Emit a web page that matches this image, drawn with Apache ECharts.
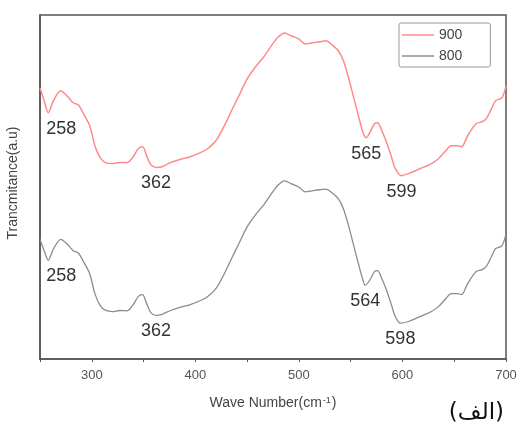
<!DOCTYPE html>
<html lang="en">
  <head>
    <meta charset="UTF-8" />
    <script src="https://cdn.jsdelivr.net/npm/echarts@6/dist/echarts.min.js"></script>
    <title>FTIR</title>
    <style>
      html,
      body,
      #chart {
        width: 100%;
        height: 100%;
        margin: 0;
        padding: 0;
        overflow: hidden;
        background: #fff;
      }
    </style>
  </head>
  <body>
    <div id="chart"></div>
    <script>
      // wave numbers (cm-1)
      const waves900 = [250, 254, 258, 263, 270, 276, 282, 287, 292, 298, 303, 308, 313, 320, 327, 334, 340, 345, 349, 353, 357, 362, 368, 376, 385, 395, 405, 412, 420, 428, 435, 442, 450, 458, 466, 474, 480, 486, 493, 500, 506, 513, 520, 526, 532, 538, 543, 548, 553, 558, 562, 565, 569, 573, 576, 580, 584, 589, 593, 599, 606, 613, 620, 628, 635, 642, 647, 653, 657, 663, 671, 677, 681, 686, 690, 696, 700];
      const trans900 = [78.8, 75.1, 71.6, 75.1, 78.0, 76.5, 74.5, 73.9, 71.3, 67.8, 62.0, 58.6, 57.1, 56.8, 57.1, 57.1, 58.8, 61.2, 61.7, 59.1, 56.5, 55.7, 55.9, 57.1, 58.0, 58.8, 60.0, 61.2, 63.5, 67.8, 72.2, 76.5, 81.4, 84.9, 87.8, 91.3, 93.6, 94.8, 93.9, 93.0, 91.6, 91.9, 92.2, 92.5, 91.3, 89.6, 86.7, 81.7, 75.9, 70.1, 65.8, 64.3, 66.1, 68.4, 68.7, 66.4, 63.5, 59.1, 55.4, 53.3, 53.9, 54.8, 55.7, 56.8, 58.3, 60.6, 62.0, 62.0, 61.7, 64.9, 68.4, 69.0, 69.9, 72.8, 75.1, 75.9, 79.4];

      const waves800 = [250, 254, 258, 263, 270, 276, 282, 287, 292, 298, 303, 308, 313, 320, 327, 334, 340, 345, 349, 353, 357, 362, 368, 376, 385, 395, 405, 412, 420, 428, 435, 442, 450, 458, 466, 474, 480, 486, 493, 500, 506, 513, 520, 526, 532, 538, 543, 548, 553, 558, 562, 564, 569, 573, 576, 580, 584, 589, 593, 598, 606, 613, 620, 628, 635, 642, 647, 653, 657, 663, 671, 677, 681, 686, 690, 696, 700];
      const trans800 = [34.8, 31.5, 28.7, 32.0, 34.8, 33.5, 31.5, 30.8, 28.3, 24.8, 19.0, 15.6, 14.2, 13.8, 14.1, 14.0, 15.8, 18.2, 18.7, 16.1, 13.5, 12.7, 13.0, 14.1, 15.0, 15.8, 17.0, 18.2, 20.5, 24.8, 29.2, 33.5, 38.4, 41.9, 44.8, 48.3, 50.6, 51.8, 50.9, 50.0, 48.6, 48.9, 49.2, 49.4, 48.3, 46.6, 43.7, 38.7, 32.9, 27.1, 22.8, 21.4, 23.2, 25.4, 25.7, 23.4, 20.5, 16.1, 12.4, 10.4, 10.9, 11.8, 12.7, 13.8, 15.3, 17.6, 19.0, 19.0, 18.7, 21.9, 25.4, 26.0, 26.9, 29.8, 32.1, 32.9, 36.4];

      // band positions annotated on each curve
      const peaks900 = [258, 362, 565, 599];
      const peaks800 = [258, 362, 564, 598];

      const font = "Liberation Sans, Arial, sans-serif";

      function pairs(xs, ys) {
        return xs.map((x, i) => [x, ys[i]]);
      }

      function peakMarks(peaks, xs, ys) {
        return peaks.map((p) => {
          const i = xs.indexOf(p);
          return {
            name: String(p),
            coord: [p, ys[i]],
            label: { offset: [p < 300 ? 13 : 0, 16] },
          };
        });
      }

      function markStyle() {
        return {
          symbol: "circle",
          symbolSize: 0,
          silent: true,
          label: {
            show: true,
            position: "inside",
            formatter: "{b}",
            fontSize: 18,
            color: "#333",
            fontFamily: font,
          },
        };
      }

      const myChart = echarts.init(document.getElementById("chart"));
      const option = {
        animation: false,
        grid: {
          left: 40,
          right: 12,
          top: 15,
          bottom: 64,
          outerBoundsMode: "none",
          show: true,
          borderColor: "#555",
          borderWidth: 1.5,
        },
        legend: {
          orient: "vertical",
          left: 399,
          top: 23,
          padding: [5, 28, 4, 3],
          itemGap: 7,
          itemWidth: 32,
          itemHeight: 1.5,
          icon: "rect",
          borderColor: "#999",
          borderWidth: 1,
          borderRadius: 2,
          textStyle: { fontSize: 14, lineHeight: 14, color: "#444", fontFamily: font },
          data: ["900", "800"],
        },
        xAxis: {
          type: "value",
          min: 250,
          max: 700,
          interval: 50,
          name: "Wave Number(cm{sup|-1})",
          nameLocation: "middle",
          nameGap: 37,
          nameTextStyle: {
            fontSize: 14,
            color: "#444",
            fontFamily: font,
            rich: {
              sup: { fontSize: 9, color: "#444", fontFamily: font, verticalAlign: "top", lineHeight: 14, padding: [0, 1, 0, 1] },
            },
          },
          splitLine: { show: false },
          axisLine: { lineStyle: { color: "#555", width: 1.5 } },
          axisTick: { length: 3, lineStyle: { color: "#555" } },
          axisLabel: {
            margin: 10,
            fontSize: 13,
            color: "#555",
            fontFamily: font,
            formatter: (v) => (v % 100 === 0 ? String(v) : ""),
          },
        },
        yAxis: {
          type: "value",
          min: 0,
          max: 100,
          name: "Trancmitance(a.u)",
          nameLocation: "middle",
          nameGap: 20,
          nameTextStyle: { fontSize: 14, color: "#444", fontFamily: font, padding: [0, 0, 0, 8] },
          splitLine: { show: false },
          axisLine: { show: true, lineStyle: { color: "#555", width: 1.5 } },
          axisTick: { show: false },
          axisLabel: { show: false },
        },
        graphic: [
          {
            type: "text",
            right: 14,
            top: 402,
            style: {
              text: "(الف)",
              fontSize: 23,
              fill: "#111",
              fontFamily: "DejaVu Sans, Noto Sans, sans-serif",
            },
          },
        ],
        series: [
          {
            name: "900",
            type: "line",
            symbol: "none",
            smooth: 0.3,
            color: "#ff8a8a",
            lineStyle: { width: 1.5 },
            data: pairs(waves900, trans900),
            markPoint: Object.assign(markStyle(), {
              data: peakMarks(peaks900, waves900, trans900),
            }),
          },
          {
            name: "800",
            type: "line",
            symbol: "none",
            smooth: 0.3,
            color: "#8c8c8c",
            lineStyle: { width: 1.3 },
            data: pairs(waves800, trans800),
            markPoint: Object.assign(markStyle(), {
              data: peakMarks(peaks800, waves800, trans800),
            }),
          },
        ],
      };
      myChart.setOption(option);
    </script>
  </body>
</html>
